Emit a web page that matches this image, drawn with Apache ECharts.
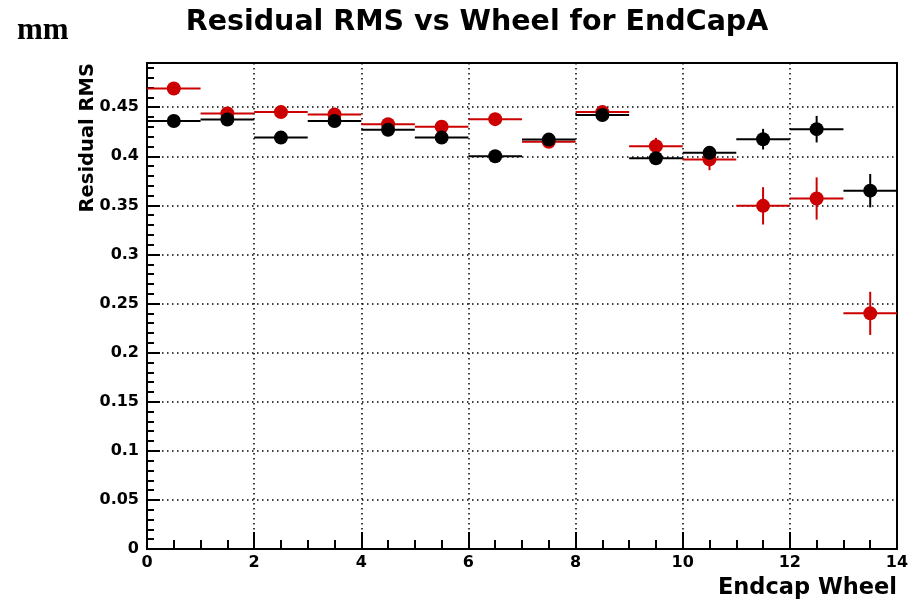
<!DOCTYPE html>
<html>
<head>
<meta charset="utf-8">
<script src="https://cdn.jsdelivr.net/npm/echarts@6/dist/echarts.min.js"></script>
<style>html,body{margin:0;padding:0;background:#fff}#c{width:919px;height:601px}</style>
</head>
<body>
<div id="c"></div>
<script>
// Wheel bin centres
const wheels = [0.5, 1.5, 2.5, 3.5, 4.5, 5.5, 6.5, 7.5, 8.5, 9.5, 10.5, 11.5, 12.5, 13.5];
const binHalfWidth = 0.5;
// Black series
const blackRMS = [0.436, 0.4375, 0.419, 0.436, 0.427, 0.419, 0.400, 0.417, 0.442, 0.398, 0.4035, 0.4174, 0.4276, 0.3650];
const blackErr = [0.003, 0.003, 0.003, 0.003, 0.003, 0.003, 0.003, 0.004, 0.003, 0.004, 0.005, 0.0105, 0.0135, 0.017];
// Red series
const redRMS = [0.469, 0.4436, 0.445, 0.4426, 0.4327, 0.430, 0.4378, 0.4147, 0.445, 0.4103, 0.3968, 0.3495, 0.357, 0.240];
const redErr = [0.003, 0.003, 0.003, 0.003, 0.003, 0.003, 0.003, 0.003, 0.003, 0.0085, 0.011, 0.019, 0.0215, 0.022];
const yTicks = [0, 0.05, 0.1, 0.15, 0.2, 0.25, 0.3, 0.35, 0.4, 0.45];

function pts(vals, errs) { return wheels.map((w, i) => [w, vals[i], errs[i]]); }
function errRender(color) {
  return function (params, api) {
    const x = api.value(0), y = api.value(1), e = api.value(2);
    const l = api.coord([x - binHalfWidth, y]), r = api.coord([x + binHalfWidth, y]);
    const t = api.coord([x, y + e]), b = api.coord([x, y - e]);
    return { type: 'group', children: [
      { type: 'line', shape: { x1: l[0], y1: l[1], x2: r[0], y2: r[1] }, style: { stroke: color, lineWidth: 2 } },
      { type: 'line', shape: { x1: t[0], y1: t[1], x2: b[0], y2: b[1] }, style: { stroke: color, lineWidth: 2 } }
    ] };
  };
}
const RED = '#cc0000', BLK = '#000000';
const lab = { fontFamily: 'DejaVu Sans', fontWeight: 'bold', fontSize: 16, color: '#000' };
const chart = echarts.init(document.getElementById('c'), null, { renderer: 'canvas' });
chart.setOption({
  animation: false,
  backgroundColor: '#fff',
  title: { text: 'Residual RMS vs Wheel for EndCapA', left: 472, top: 3, textAlign: 'center',
    textStyle: { fontFamily: 'DejaVu Sans', fontWeight: 'bold', fontSize: 28.5, color: '#000' } },
  grid: { left: 147, right: 22, top: 63, bottom: 52, show: true, borderColor: '#000', borderWidth: 2, backgroundColor: 'transparent' },
  xAxis: { type: 'value', min: 0, max: 14, interval: 2,
    axisLine: { show: true, lineStyle: { color: '#000', width: 2 } },
    axisTick: { show: true, inside: true, length: 17, lineStyle: { color: '#000', width: 2 } },
    minorTick: { show: true, splitNumber: 4, length: 9, lineStyle: { color: '#000', width: 2 } },
    axisLabel: Object.assign({ margin: 6 }, lab),
    splitLine: { show: true, lineStyle: { color: '#000', width: 1.5, type: [1.5, 3.5] } } },
  yAxis: { type: 'value', min: 0, max: 0.495, interval: 0.05,
    axisLine: { show: true, lineStyle: { color: '#000', width: 2 } },
    axisTick: { show: true, inside: true, length: 13, lineStyle: { color: '#000', width: 2 } },
    minorTick: { show: true, splitNumber: 5, length: 7, lineStyle: { color: '#000', width: 2 } },
    axisLabel: Object.assign({ margin: 8, showMaxLabel: false, formatter: v => yTicks.includes(+v.toFixed(2)) ? String(+v.toFixed(2)) : '' }, lab),
    splitLine: { show: true, lineStyle: { color: '#000', width: 1.5, type: [1.5, 3.5] } } },
  graphic: [
    { type: 'text', left: 17, top: 15, style: { text: 'mm', fontFamily: 'Liberation Serif', fontWeight: 'bold', fontSize: 31, fill: '#000' } },
    { type: 'text', x: 88, y: 63, rotation: Math.PI / 2, style: { text: 'Residual RMS', fontFamily: 'DejaVu Sans', fontWeight: 'bold', fontSize: 19.5, fill: '#000', align: 'right', verticalAlign: 'middle' } },
    { type: 'text', x: 897, y: 588, style: { text: 'Endcap Wheel', fontFamily: 'DejaVu Sans', fontWeight: 'bold', fontSize: 22.5, fill: '#000', align: 'right', verticalAlign: 'middle' } }
  ],
  series: [
    { type: 'custom', name: 'redErr', renderItem: errRender(RED), data: pts(redRMS, redErr), z: 2 },
    { type: 'scatter', name: 'red', data: pts(redRMS, redErr), symbol: 'circle', symbolSize: 14, itemStyle: { color: RED, opacity: 1 }, z: 3 },
    { type: 'custom', name: 'blackErr', renderItem: errRender(BLK), data: pts(blackRMS, blackErr), z: 4 },
    { type: 'scatter', name: 'black', data: pts(blackRMS, blackErr), symbol: 'circle', symbolSize: 14, itemStyle: { color: BLK, opacity: 1 }, z: 5 }
  ]
});
</script>
</body>
</html>
